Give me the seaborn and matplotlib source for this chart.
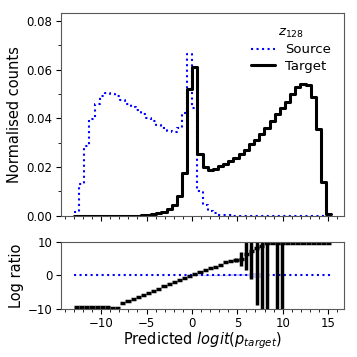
import numpy as np
import pandas as pd
import matplotlib
matplotlib.use("Agg")
import matplotlib.pyplot as plt
from matplotlib.ticker import AutoMinorLocator, MultipleLocator
import seaborn as sns

# Binning of predicted logit
bin_lo, bin_hi, n_bins = -13.0, 15.35, 50
edges = np.linspace(bin_lo, bin_hi, n_bins + 1)
centers = 0.5 * (edges[:-1] + edges[1:])

# Normalised counts per bin
source = [0.0014, 0.0130, 0.0286, 0.0396, 0.0460, 0.0492, 0.0502, 0.0498, 0.0490, 0.0477,
          0.0460, 0.0447, 0.0433, 0.0416, 0.0403, 0.0388, 0.0374, 0.0360, 0.0350, 0.0346,
          0.0360, 0.0423, 0.0663, 0.0444, 0.0100, 0.0045, 0.0021, 0.0011, 0.0004, 0.0002,
          0.0002, 0.0001, 0.0001, 0.0001, 0.0001, 0.0001, 0.0001, 0.0, 0.0, 0.0,
          0.0, 0.0, 0.0, 0.0, 0.0, 0.0, 0.0, 0.0, 0.0, 0.0]
target = [0.0, 0.0, 0.0, 0.0, 0.0, 0.0, 0.0, 0.0, 0.0, 0.00001,
          0.00002, 0.00005, 0.0001, 0.0002, 0.0003, 0.0006, 0.0010, 0.0016, 0.0026, 0.0045,
          0.0082, 0.0176, 0.0521, 0.0612, 0.0252, 0.0199, 0.0188, 0.0193, 0.0203, 0.0213,
          0.0224, 0.0238, 0.0254, 0.0272, 0.0293, 0.0313, 0.0337, 0.0362, 0.0388, 0.0416,
          0.0443, 0.0468, 0.0498, 0.0530, 0.0539, 0.0536, 0.0488, 0.0357, 0.0137, 0.0009]

# Log ratio target/source per bin, its error, and the source band
log_ratio = [-9.4, -9.4, -9.4, -9.4, -9.4, -9.4, -9.4, -9.7, -9.7, -8.3,
             -7.6, -7.0, -6.4, -5.8, -5.1, -4.5, -3.9, -3.3, -2.7, -2.1,
             -1.5, -0.9, -0.2, 0.3, 0.9, 1.5, 2.1, 2.6, 3.2, 3.8,
             4.3, 4.6, 4.9, 6.3, 7.1, 8.1, 8.8, 9.5, 9.5, 9.5,
             9.5, 9.5, 9.5, 9.5, 9.5, 9.5, 9.5, 9.5, 9.5, 9.5]
ratio_err = [0] * 30 + [0.3, 0.6, 2.0, 4.8, 8.1, 16.9, 20, 20, 0, 20,
                        20, 0, 0, 0, 0, 0, 0, 0, 0, 0]
band_err = [0] * 22 + [0.1] * 8 + [0.3] * 4 + [0.7] * 3 + [0] * 13

df = pd.DataFrame({"logit": centers, "source": source, "target": target})

sns.set_style("ticks", {"axes.edgecolor": "0.35", "text.color": "black",
                        "axes.labelcolor": "black", "xtick.color": "black",
                        "ytick.color": "black"})
plt.rcParams['font.family'] = ['DejaVu Sans']

fig = plt.figure(figsize=(3.57, 3.57), dpi=100)
gs = fig.add_gridspec(2, 1, height_ratios=[3, 1], left=0.171, right=0.964,
                      top=0.964, bottom=0.134, hspace=0.19)
ax1 = fig.add_subplot(gs[0])
ax2 = fig.add_subplot(gs[1], sharex=ax1)

# Top: step histograms
sns.histplot(data=df, x="logit", weights="source", bins=list(edges), element="step",
             fill=False, color="blue", linestyle=":", linewidth=1.5, ax=ax1, label="Source")
sns.histplot(data=df, x="logit", weights="target", bins=list(edges), element="step",
             fill=False, color="black", linewidth=2.2, ax=ax1, label="Target")
ax1.set_ylim(0, 0.0833)
ax1.set_ylabel("Normalised counts", fontsize=10.5, labelpad=3)
ax1.set_xlabel("")
ax1.yaxis.set_major_locator(MultipleLocator(0.02))
ax1.yaxis.set_minor_locator(AutoMinorLocator(2))
ax1.xaxis.set_minor_locator(AutoMinorLocator(5))
ax1.tick_params(labelbottom=False, labelsize=8.5, pad=3)
ax1.legend(title="$z_{128}$", frameon=False, loc="upper right", fontsize=9.5,
           title_fontsize=9.5, borderaxespad=0.6, handlelength=1.8,
           labelspacing=0.25)

# Bottom: log ratio
ax2.fill_between(centers, -np.array(band_err), band_err, step="mid",
                 color="blue", alpha=0.2, linewidth=0)
ax2.hlines(0, edges[0], edges[-1], colors="blue", linestyles=":", linewidth=1.5)
ax2.errorbar(centers, log_ratio, xerr=np.diff(edges) / 2, yerr=ratio_err,
             fmt="none", ecolor="black", elinewidth=2.5)
ax2.set_ylim(-10, 10)
ax2.set_yticks([-10, 0, 10])
ax2.set_ylabel("Log ratio", fontsize=10.5, labelpad=3)
ax2.set_xlabel("Predicted $logit(p_{target})$", fontsize=10.5, labelpad=0)
ax2.set_xticks([-10, -5, 0, 5, 10, 15])
ax2.xaxis.set_minor_locator(AutoMinorLocator(5))
ax2.tick_params(labelsize=8.5, pad=2.5)

fig.savefig("out.png", dpi=100)
